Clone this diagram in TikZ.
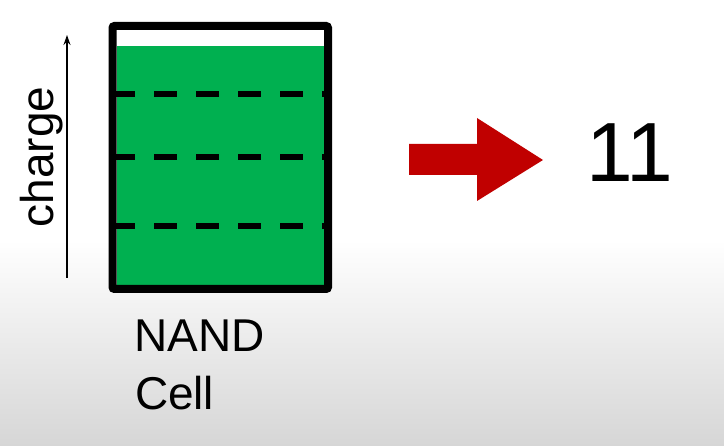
\documentclass[tikz,border=0pt]{standalone}
\usepackage{fontspec}
\setmainfont{Liberation Sans}
\usetikzlibrary{arrows.meta}
\definecolor{cellgreen}{RGB}{0,176,80}
\definecolor{arrred}{RGB}{192,0,0}
\definecolor{bggray}{RGB}{214,214,214}
\begin{document}
\begin{tikzpicture}[x=1pt,y=1pt,
  lbl/.style={inner sep=0pt, outer sep=0pt, text=black},
  levelline/.style={line width=6pt, dash pattern=on 23pt off 19pt, black},
  cellbox/.style={line width=8pt, rounded corners=2pt, draw=black}]
\useasboundingbox (0,0) rectangle (724,446);
% background
\fill[white] (0,0) rectangle (724,446);
\shade[bottom color=bggray, top color=white] (0,0) rectangle (724,206);
% charge fill
\fill[cellgreen] (117,161) rectangle (324,400);
% level lines
\draw[levelline] (112,352) -- (328,352);
\draw[levelline] (112,289) -- (328,289);
\draw[levelline] (112,220) -- (328,220);
% cell outline
\draw[cellbox] (112.5,157) rectangle (328,420);
\coordinate (cellbox) at (220,288);
% charge axis
\coordinate (axbot) at (67,168);
\coordinate (axtop) at (67,411);
\draw[line width=1.2pt, -{Stealth[length=10pt,width=7pt]}] (axbot) -- (axtop);
\node[lbl, rotate=90, anchor=base, font=\fontsize{46}{46}\selectfont] (chg) at (53,289) {charge};
% red arrow
\fill[arrred] (409,302) -- (477,302) -- (477,328) -- (543,286) -- (477,245) -- (477,271) -- (409,271) -- cycle;
% value
\node[lbl, anchor=base west, font=\fontsize{84}{84}\selectfont] (val) at (586,264) {11};
% label
\node[lbl, anchor=base west, font=\fontsize{46}{46}\selectfont] (nand) at (134.5,94) {NAND};
\node[lbl, anchor=base west, font=\fontsize{46}{46}\selectfont] (cell) at (135,36) {Cell};
\end{tikzpicture}
\end{document}
